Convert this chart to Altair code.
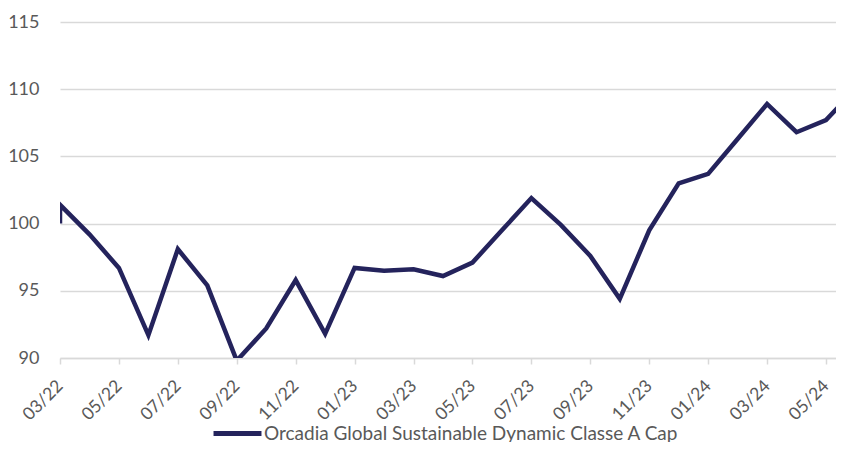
import altair as alt
import pandas as pd

months = ["03/22", "04/22", "05/22", "06/22", "07/22", "08/22", "09/22", "10/22",
          "11/22", "12/22", "01/23", "02/23", "03/23", "04/23", "05/23", "06/23",
          "07/23", "08/23", "09/23", "10/23", "11/23", "12/23", "01/24", "02/24",
          "03/24", "04/24", "05/24", "06/24"]
values = [101.4, 99.2, 96.7, 91.7, 98.1, 95.4, 89.8, 92.2,
          95.8, 91.8, 96.7, 96.5, 96.6, 96.1, 97.1, 99.5,
          101.9, 99.9, 97.6, 94.4, 99.5, 103.0, 103.7, 106.3,
          108.9, 106.8, 107.7, 110.0]
start_value = 100.0
series_name = "Orcadia Global Sustainable Dynamic Classe A Cap"
y_ticks = [90, 95, 100, 105, 110, 115]

rows = [{"idx": 0, "order": 0, "value": start_value, "series": series_name}]
for i, v in enumerate(values):
    rows.append({"idx": i, "order": i + 1, "value": v, "series": series_name})
df = pd.DataFrame(rows)

label_array = "[" + ",".join("'%s'" % m for m in months) + "]"

FONT = "Lato"
TXT = "#595959"
GRID = "#D9D9D9"
NAVY = "#24235C"

chart = alt.Chart(df).mark_line(strokeWidth=4.5, clip=True, strokeJoin="miter").encode(
    x=alt.X("idx:Q",
            scale=alt.Scale(domain=[0, 26.34], nice=False, zero=False),
            axis=alt.Axis(values=list(range(0, len(months), 2)),
                          labelExpr=label_array + "[datum.value]",
                          title=None, grid=False,
                          domainColor=GRID, domainWidth=1.5,
                          tickColor=GRID, tickSize=6, tickWidth=1.5,
                          labelAngle=-45, labelAlign="right", labelBaseline="middle",
                          labelPadding=19, labelFontSize=17.5, labelColor=TXT,
                          labelFont=FONT, labelOverlap=False, labelFlush=False)),
    y=alt.Y("value:Q",
            scale=alt.Scale(domain=[90, 115], nice=False, zero=False),
            axis=alt.Axis(values=y_ticks, title=None, grid=True, gridColor=GRID,
                          gridWidth=1.5, domain=False, ticks=False,
                          labelPadding=21, labelFontSize=18, labelColor=TXT,
                          labelFont=FONT)),
    order="order:Q",
    color=alt.Color("series:N",
                    scale=alt.Scale(range=[NAVY]),
                    legend=alt.Legend(title=None, orient="none", legendX=151, legendY=385,
                                      symbolType="stroke", symbolSize=2300,
                                      symbolStrokeWidth=5, labelFontSize=19,
                                      labelColor=TXT, labelFont=FONT, labelLimit=700,
                                      labelOffset=0)),
).properties(
    width=776, height=336,
    autosize=alt.AutoSizeParams(type="none"),
    padding={"left": 52, "top": 14, "right": 0, "bottom": 84},
).configure_view(stroke=None)

chart.save("out.html", embed_options={"renderer": "svg", "actions": False})
